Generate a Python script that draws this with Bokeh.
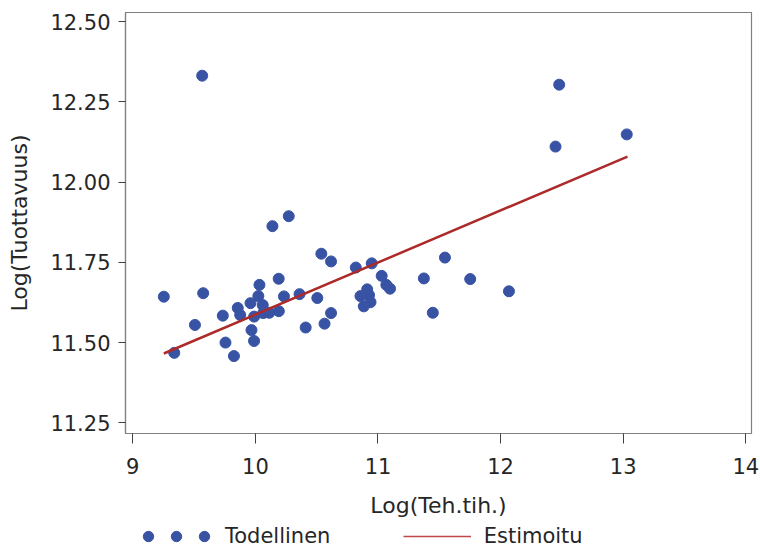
from bokeh.plotting import figure
from bokeh.layouts import column
from bokeh.models import (Range1d, FixedTicker, NumeralTickFormatter, Legend, LegendItem)
from bokeh.embed import file_html
from bokeh.resources import INLINE

# ---- data ----
teh_tih = [9.253, 9.338, 9.566, 9.507, 9.574, 9.734, 9.756, 9.825, 9.856, 9.876,
           9.960, 9.968, 9.989, 9.990, 10.024, 10.033, 10.060, 10.064, 10.113, 10.139,
           10.190, 10.191, 10.233, 10.272, 10.360, 10.410, 10.505, 10.538, 10.564, 10.617,
           10.617, 10.819, 10.949, 11.030, 10.912, 10.857, 10.927, 10.939, 10.884, 11.068,
           11.098, 11.374, 11.546, 11.447, 11.752, 12.068, 12.448, 12.478, 13.029]
tuottavuus = [11.643, 11.468, 12.332, 11.555, 11.654, 11.584, 11.500, 11.458, 11.608, 11.586,
              11.623, 11.539, 11.505, 11.581, 11.645, 11.680, 11.617, 11.592, 11.593, 11.863,
              11.699, 11.598, 11.644, 11.894, 11.651, 11.547, 11.639, 11.777, 11.559, 11.753,
              11.592, 11.734, 11.747, 11.708, 11.666, 11.645, 11.648, 11.626, 11.613, 11.680,
              11.668, 11.700, 11.765, 11.593, 11.698, 11.660, 12.111, 12.304, 12.149]
fit_x = [9.253, 13.035]
fit_y = [11.466, 12.080]

x_ticks = [9, 10, 11, 12, 13, 14]
y_ticks = [11.25, 11.50, 11.75, 12.00, 12.25, 12.50]

FONT = "DejaVu Sans"
TXT = "#262626"
BLUE = "#3953a4"
RED = "#ad2a2a"

W = 760
H_PLOT = 522
H_LEG = 27

p = figure(width=W, height=H_PLOT, output_backend="svg", toolbar_location=None,
           x_range=Range1d(8.9405, 14.0465), y_range=Range1d(11.2166, 12.529),
           min_border_left=125, min_border_right=9, min_border_top=12,
           min_border_bottom=H_PLOT - 433)
p.grid.visible = False
p.outline_line_color = "#808080"
p.outline_line_width = 1.2
p.background_fill_color = "white"
p.border_fill_color = "white"

sc = p.scatter(teh_tih, tuottavuus, size=11, fill_color=BLUE, line_color=BLUE)
ln = p.line(fit_x, fit_y, line_width=2.5, line_color=RED)

for ax in (p.xaxis[0], p.yaxis[0]):
    ax.axis_line_color = "#808080"
    ax.axis_line_width = 1.2
    ax.major_tick_line_color = "#404040"
    ax.major_tick_line_width = 1
    ax.major_tick_in = 0
    ax.minor_tick_line_color = None
    ax.major_label_text_font = FONT
    ax.major_label_text_font_size = "21px"
    ax.major_label_text_color = TXT
    ax.axis_label_text_font = FONT
    ax.axis_label_text_font_size = "22px"
    ax.axis_label_text_font_style = "normal"
    ax.axis_label_text_color = TXT

xa = p.xaxis[0]
xa.ticker = FixedTicker(ticks=x_ticks)
xa.formatter = NumeralTickFormatter(format="0")
xa.major_tick_out = 10
xa.major_label_standoff = 14
xa.axis_label = "Log(Teh.tih.)"
xa.axis_label_standoff = 16

ya = p.yaxis[0]
ya.ticker = FixedTicker(ticks=y_ticks)
ya.formatter = NumeralTickFormatter(format="0.00")
ya.major_tick_out = 7
ya.major_label_standoff = 8
ya.axis_label = "Log(Tuottavuus)"
ya.axis_label_standoff = 15

# ---- legend strip below the plot (frames are aligned with the plot above) ----
lf = figure(width=W, height=H_LEG, output_backend="svg", toolbar_location=None,
            x_range=Range1d(0, 1), y_range=Range1d(0, 1),
            x_axis_type=None, y_axis_type=None, min_border=0,
            min_border_left=0, min_border_right=0, min_border_top=0, min_border_bottom=0)
lf.grid.visible = False
lf.outline_line_color = None
lf.background_fill_color = "white"
lf.border_fill_color = "white"

sc_leg = lf.scatter(teh_tih, tuottavuus, size=11, fill_color=BLUE, line_color=BLUE, visible=False)
ln_leg = lf.line(fit_x, fit_y, line_width=1.3, line_color="#c04848", visible=False)

common = dict(orientation="horizontal", glyph_height=26, spacing=0, padding=0, margin=0,
              label_width=0, label_height=0, border_line_color=None, background_fill_alpha=0,
              label_text_font=FONT, label_text_font_size="21px", label_text_color=TXT)

leg_a = Legend(items=[LegendItem(label="", renderers=[sc_leg]),
                      LegendItem(label="", renderers=[sc_leg])],
               location=(10, 0), glyph_width=26, label_standoff=2, **common)
leg_c = Legend(items=[LegendItem(label="Todellinen", renderers=[sc_leg])],
               location=(66, 0), glyph_width=26, label_standoff=8, **common)
leg_b = Legend(items=[LegendItem(label="Estimoitu", renderers=[ln_leg])],
               location=(277.7, 0), glyph_width=68, label_standoff=13, **common)
lf.add_layout(leg_a)
lf.add_layout(leg_c)
lf.add_layout(leg_b)

layout = column(p, lf, spacing=0)
open("out.html", "w").write(file_html(layout, INLINE))
